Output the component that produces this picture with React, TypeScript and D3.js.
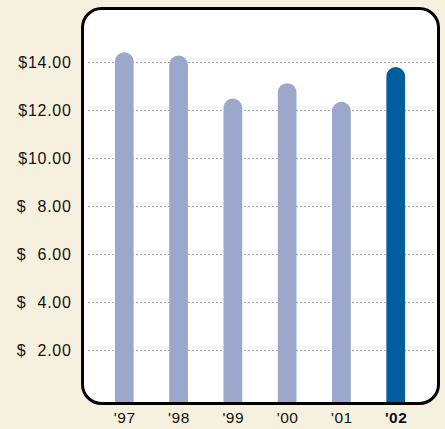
import React from "react";
import * as d3 from "d3";

const categories = ["'97", "'98", "'99", "'00", "'01", "'02"];
const values = [14.38, 14.25, 12.46, 13.1, 12.32, 13.77];
const highlight = ["'02"];
const tickValues = [2, 4, 6, 8, 10, 12, 14];

const W = 445;
const H = 429;
const box = { x: 82.5, y: 8.5, w: 356, h: 395, r: 19 };

export default function App() {
  const y = d3.scaleLinear().domain([0, 14]).range([397.7, 61.5]);
  const x = d3.scaleBand().domain(categories).range([97, 423]).paddingInner(0.655).paddingOuter(0.33);
  const bw = x.bandwidth();
  const bottom = box.y + box.h;
  const fmt = d3.format(".2f");
  const font = "'Liberation Sans', Arial, sans-serif";
  return (
    <div style={{ position: "absolute", left: 0, top: 0 }}>
      <svg width={W} height={H} style={{ display: "block" }}>
        <defs>
          <clipPath id="boxclip">
            <rect x={box.x} y={box.y} width={box.w} height={box.h} rx={box.r} ry={box.r} />
          </clipPath>
        </defs>
        <rect x={0} y={0} width={W} height={H} fill="#F6F1DF" />
        <rect x={box.x} y={box.y} width={box.w} height={box.h} rx={box.r} ry={box.r} fill="#ffffff" />
        <g clipPath="url(#boxclip)">
          {tickValues.map((t) => (
            <line key={t} x1={88} x2={434} y1={Math.round(y(t)) + 0.5} y2={Math.round(y(t)) + 0.5}
              stroke="#a8a8a8" strokeWidth={1} strokeDasharray="2,2" />
          ))}
          {categories.map((c, i) => {
            const x0 = x(c) as number;
            const top = y(values[i]);
            const r = bw / 2;
            const path = `M${x0},${bottom + 5} L${x0},${top + r} A${r},${r} 0 0 1 ${x0 + bw},${top + r} L${x0 + bw},${bottom + 5} Z`;
            return <path key={c} d={path} fill={highlight.includes(c) ? "#005E9E" : "#9BA8CC"} />;
          })}
        </g>
        <rect x={box.x} y={box.y} width={box.w} height={box.h} rx={box.r} ry={box.r} fill="none" stroke="#000" strokeWidth={3} />
        {tickValues.map((t) => (
          <g key={t} fontFamily={font} fontSize={16} fill="#111">
            {t >= 10 ? (
              <text x={71.5} y={y(t) + 6} textAnchor="end" letterSpacing={0.7}>{"$" + fmt(t)}</text>
            ) : (
              <>
                <text x={16.7} y={y(t) + 6} textAnchor="start">$</text>
                <text x={71.5} y={y(t) + 6} textAnchor="end" letterSpacing={0.7}>{fmt(t)}</text>
              </>
            )}
          </g>
        ))}
        {categories.map((c) => (
          <text key={c} x={(x(c) as number) + bw / 2 + 0.4} y={422.5} textAnchor="middle"
            fontFamily={font} fontSize={15.5} letterSpacing={0.5}
            fontWeight={highlight.includes(c) ? "bold" : "normal"} fill="#111">{c}</text>
        ))}
      </svg>
    </div>
  );
}
